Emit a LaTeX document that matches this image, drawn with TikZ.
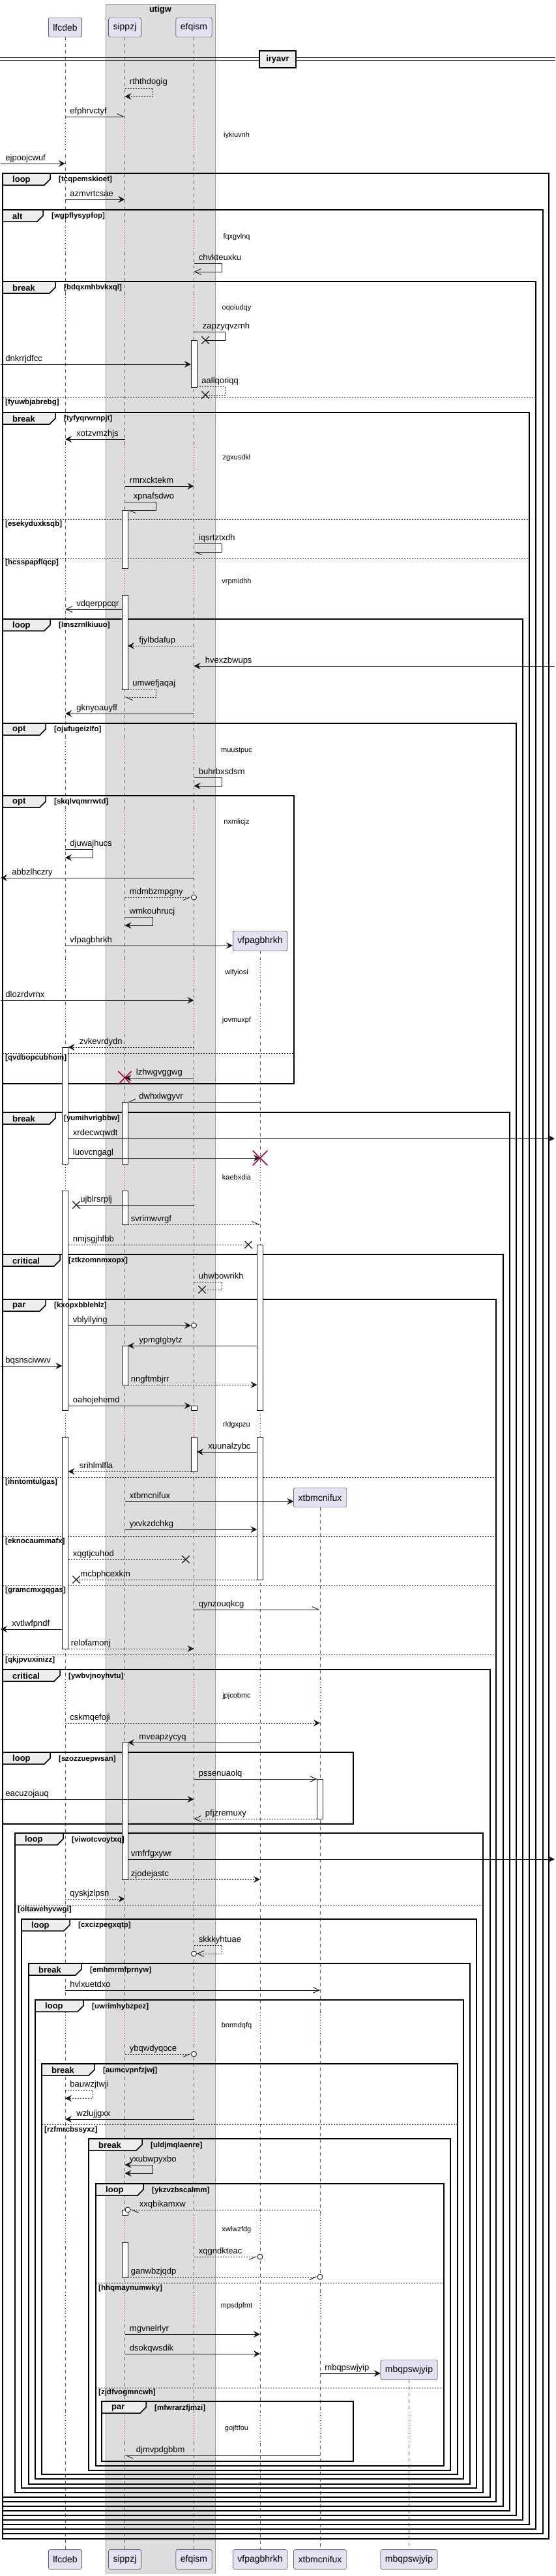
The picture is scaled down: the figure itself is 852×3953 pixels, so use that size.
\documentclass[tikz,border=0pt]{standalone}
\usepackage{fontspec}
\setmainfont{Liberation Sans}
\usetikzlibrary{arrows.meta,shapes.misc,positioning}

\definecolor{partfill}{HTML}{E2E2F0}
\definecolor{partline}{HTML}{181818}
\definecolor{boxfill}{HTML}{DDDDDD}
\definecolor{boxline}{HTML}{9A9A9A}
\definecolor{tabfill}{HTML}{EEEEEE}
\definecolor{delayred}{HTML}{A80036}

% groups: left/top/right/bottom/keyword/condition/tab width
\def\grouplist{
  4/266/842/3896/loop/tcqpemskioet/73,
  4/322/833/3888/alt/wgpflysypfop/62,
  4/432/822/3881/break/bdqxmhbvkxql/81,
  4/633/812/3874/break/tyfyqrwrnpjt/81,
  4/950/802/3867/loop/lmszrnlkiuuo/73,
  4/1110/792/3860/opt/ojufugeizlfo/66,
  4/1221/451/1663/opt/skqlvqmrrwtd/66,
  4/1707/782/3853/break/yumihvrigbbw/81,
  4/1925/772/3846/critical/ztkzomnmxopx/88,
  4/1994/761/3839/par/kxopxbblehlz/66,
  4/2562/752/3832/critical/ywbvjnoyhvtu/88,
  4/2689/542/2799/loop/szozzuepwsan/73,
  23/2813/741/3825/loop/viwotcvoytxq/74,
  33/2945/731/3818/loop/cxcizpegxqtp/74,
  44/3013/721/3812/break/emhmrmfprnyw/81,
  54/3069/711/3804/loop/uwrimhybzpez/74,
  64/3167/702/3797/break/aumcvpnfzjwj/81,
  136/3282/691/3791/break/uldjmqlaenre/82,
  147/3351/681/3784/loop/ykzvzbscalmm/73,
  156/3685/542/3777/par/mfwrarzfjmzi/68}
% else parts: left/right/y/condition
\def\elselist{4/822/610/fyuwbjabrebg, 4/812/797/esekyduxksqb,
  4/812/856/hcsspapflqcp, 4/451/1616/qvdbopcubhom, 4/761/2267/ihntomtulgas,
  4/761/2357/eknocaummafx, 4/761/2433/gramcmxgqgas, 4/761/2539/qkjpvuxinizz,
  23/741/2923/oltawehyvwgi, 64/702/3260/rzfmrcbssyxz, 147/681/3503/hhqmaynumwky,
  147/681/3664/zjdfvogmncwh}

\begin{document}
\begin{tikzpicture}[x=1pt,y=-1pt,
  part/.style={draw=partline,fill=partfill,rounded corners=2.5pt,minimum height=30pt,inner xsep=7pt,font=\fontsize{14}{16}\selectfont},
  life/.style={draw=partline!70,line width=0.6pt,dash pattern=on 5pt off 5pt},
  delayline/.style={draw=delayred,line width=0.8pt,dash pattern=on 1pt off 3pt},
  dtxt/.style={font=\fontsize{11}{13}\selectfont,inner sep=0pt},
  frame/.style={draw=black,line width=1.5pt},
  tab/.style={draw=black,line width=1.5pt,fill=tabfill},
  kwtxt/.style={font=\bfseries\fontsize{13}{15}\selectfont,anchor=west,inner sep=0pt},
  condtxt/.style={font=\bfseries\fontsize{11.5}{13}\selectfont,anchor=west,inner sep=0pt},
  elsesep/.style={draw=black,line width=1pt,dash pattern=on 2pt off 2pt},
  actbar/.style={draw=partline,fill=white,line width=0.9pt,minimum width=9pt,inner sep=0pt},
  msg/.style={draw=partline,line width=0.9pt},
  dot/.style={dash pattern=on 2pt off 2pt},
  fa/.style={-{Stealth[length=10pt,width=10pt,inset=3.5pt]}},
  fb/.style={arrows={Stealth[length=10pt,width=10pt,inset=3.5pt]-Stealth[length=10pt,width=10pt,inset=3.5pt]}},
  oa/.style={-{Straight Barb[length=10pt,width=9pt]}},
  hl/.style={-{Straight Barb[left,length=10pt,width=9pt]}},
  hr/.style={-{Straight Barb[right,length=10pt,width=9pt]}},
  lbl/.style={font=\fontsize{13}{15}\selectfont,inner sep=0pt,anchor=base west,yshift=5pt},
  lr/.style={lbl,at start,xshift=7pt},
  ll/.style={lbl,at end,xshift=17pt},
  circ/.style={circle,draw=partline,fill=white,line width=0.9pt,minimum size=8pt,inner sep=0pt},
  xm/.style={cross out,draw=partline,line width=1.3pt,minimum size=10pt,inner sep=0pt},
  kill/.style={cross out,draw=delayred,line width=1.5pt,minimum size=19pt,inner sep=0pt}]

  \useasboundingbox (0,0) rectangle (852,3953);

  % box utigw
  \draw[draw=boxline,fill=boxfill] (162,6) rectangle (330,3948);
  \node[font=\bfseries\fontsize{13}{15}\selectfont] (utigw) at (246,15) {utigw};

  % participants
  \foreach \n/\px in {lfcdeb/100,sippzj/191.5,efqism/297.5}{
    \node[part] (\n) at (\px,42) {\n};
  }
  \node[part] (vfpagbhrkh) at (399,1444) {vfpagbhrkh};
  \node[part] (xtbmcnifux) at (491,2298) {xtbmcnifux};
  \node[part] (mbqpswjyip) at (627.5,3636.5) {mbqpswjyip};
  \foreach \n/\px in {lfcdeb/100,sippzj/191.5,efqism/297.5,vfpagbhrkh/399,xtbmcnifux/491,mbqpswjyip/627.5}{
    \node[part] (b-\n) at (\px,3927.5) {\n};
  }

  \coordinate (L) at (lfcdeb.south);
  \coordinate (Ll) at ([xshift=-4.5pt]lfcdeb.south);
  \coordinate (Lr) at ([xshift=4.5pt]lfcdeb.south);
  \coordinate (S) at (sippzj.south);
  \coordinate (Sl) at ([xshift=-4.5pt]sippzj.south);
  \coordinate (Sr) at ([xshift=4.5pt]sippzj.south);
  \coordinate (E) at (efqism.south);
  \coordinate (El) at ([xshift=-4.5pt]efqism.south);
  \coordinate (Er) at ([xshift=4.5pt]efqism.south);
  \coordinate (V) at (vfpagbhrkh.south);
  \coordinate (Vl) at ([xshift=-4.5pt]vfpagbhrkh.south);
  \coordinate (X) at (xtbmcnifux.south);
  \coordinate (Xl) at ([xshift=-4.5pt]xtbmcnifux.south);
  \coordinate (M) at (mbqpswjyip.south);
  \coordinate (lb) at (1,0);
  \coordinate (rb) at (851,0);

  % lifelines
  \foreach \n in {lfcdeb,sippzj,efqism,vfpagbhrkh,xtbmcnifux,mbqpswjyip}
    \draw[life] (\n.south) -- (b-\n.north);

  % delays
  \foreach \ya/\yb/\ty/\txt/\plist in {
    185/232/208/iykiuvnh/{L/white,S/boxfill,E/boxfill},
    345/387/364/fqxgvlnq/{L/white,S/boxfill,E/boxfill},
    452/493/473/oqoiudqy/{L/white,S/boxfill,E/boxfill},
    682/725/703/zgxusdkl/{L/white,S/boxfill,E/boxfill},
    875/912/893/vrpmidhh/{L/white,S/boxfill,E/boxfill},
    1133/1170/1152/muustpuc/{L/white,S/boxfill,E/boxfill},
    1243/1280/1262/nxmlicjz/{L/white,S/boxfill,E/boxfill},
    1472/1513/1493/wifyiosi/{L/white,S/boxfill,E/boxfill,V/white},
    1547/1587/1566/jovmuxpf/{L/white,S/boxfill,E/boxfill,V/white},
    1787/1827/1807/kaebxdia/{L/white,S/boxfill,E/boxfill,V/white},
    2164/2205/2187/rldgxpzu/{L/white,S/boxfill,E/boxfill,V/white},
    2577/2625/2603/jpjcobmc/{L/white,S/boxfill,E/boxfill,V/white,X/white},
    3088/3133/3109/bnrmdqfq/{L/white,S/boxfill,E/boxfill,V/white,X/white},
    3399/3441/3422/xwlwzfdg/{L/white,S/boxfill,E/boxfill,V/white,X/white},
    3518/3560/3539/mpsdpfmt/{L/white,S/boxfill,E/boxfill,V/white,X/white},
    3702/3747/3727/gojftfou/{L/white,S/boxfill,E/boxfill,V/white,X/white,M/white}}{
    \foreach \who/\bg in \plist {
      \draw[draw=\bg,line width=2pt] (\who|-0,\ya) -- (\who|-0,\yb);
      \draw[delayline] (\who|-0,\ya) -- (\who|-0,\yb);
    }
    \node[dtxt] (dl\ya) at (363,\ty) {\txt};
  }

  % divider
  \draw[line width=1pt] (0,89) -- (852,89) (0,93) -- (852,93);
  \node[draw=black,line width=1.5pt,fill=tabfill,minimum width=56pt,minimum height=26pt,inner sep=0pt,font=\bfseries\fontsize{13}{15}\selectfont] (iryavr) at (426,91) {iryavr};

  % groups
  \foreach \xa/\ya/\xb/\yb/\kw/\cond/\tw in \grouplist {
    \draw[frame] (\xa,\ya) rectangle (\xb,\yb);
    \draw[tab] (\xa,\ya) -- (\xa+\tw,\ya) -- (\xa+\tw,\ya+9) -- (\xa+\tw-9,\ya+18) -- (\xa,\ya+18) -- cycle;
    \node[kwtxt] (kw\ya) at (\xa+15,\ya+10) {\kw};
  }
  \foreach \xa/\xb/\y/\cond in \elselist
    \draw[elsesep] (\xa,\y) -- (\xb,\y);

  % activations
  \foreach \who/\ya/\yb in {E/522/594, S/783/872, S/913/1058, L/1607/1786, L/1827/2164,
    L/2205/2530, S/1691/1786, S/1827/1879, V/1910/2164, V/2205/2424, S/2065/2125,
    E/2157/2164, E/2205/2258, S/2674/2884, X/2730/2791, S/3391/3399, S/3441/3494}
    \node[actbar,minimum height={(\yb-\ya)*1pt},anchor=north] (act\who\ya) at (\who|-0,\ya) {};

  % guard texts
  \foreach \xa/\ya/\xb/\yb/\kw/\cond/\tw in \grouplist
    \node[condtxt] (cd\ya) at (\xa+\tw+13,\ya+10) {[\cond]};
  \foreach \xa/\xb/\y/\cond in \elselist
    \node[condtxt] (el\y) at (\xa+4,\y+8) {[\cond]};

  % messages
  \draw[msg,dot,fa] (S|-0,135) -- node[lr]{rththdogig} ++(43,0) -- ++(0,13) -- (S|-0,148);
  \draw[msg,hl] (L|-0,179) -- node[lr]{efphrvctyf} (S|-0,179);
  \draw[msg,fa] (lb|-0,251) -- node[lr]{ejpoojcwuf} (L|-0,251);
  \draw[msg,fa] (L|-0,306) -- node[lr]{azmvrtcsae} (S|-0,306);
  \draw[msg,oa] (E|-0,404) -- node[lr]{chvkteuxku} ++(43,0) -- ++(0,13) -- (E|-0,417);
  \node[xm] (x522) at (315,522) {};
  \draw[msg] (E|-0,509) -- node[lr,xshift=6pt]{zapzyqvzmh} ++(48,0) -- ++(0,13) -- (x522.center);
  \draw[msg,fa] (lb|-0,559) -- node[lr]{dnkrrjdfcc} (El|-0,559);
  \node[xm] (x606) at (315,606) {};
  \draw[msg,dot] (Er|-0,593) -- node[lr]{aallqoriqq} ++(43.5,0) -- ++(0,13) -- (x606.center);
  \draw[msg,fa] (S|-0,674) -- node[ll]{xotzvmzhjs} (L|-0,674);
  \draw[msg,fa] (S|-0,746) -- node[lr]{rmrxcktekm} (E|-0,746);
  \draw[msg,hl] (S|-0,770) -- node[lr,xshift=6pt]{xpnafsdwo} ++(48,0) -- ++(0,13) -- (Sr|-0,783);
  \draw[msg,hl] (E|-0,834) -- node[lr]{iqsrtztxdh} ++(43,0) -- ++(0,13) -- (E|-0,847);
  \draw[msg,oa] (Sl|-0,935) -- node[ll]{vdqerppcqr} (L|-0,935);
  \draw[msg,dot,fa] (E|-0,991) -- node[ll]{fjylbdafup} (Sr|-0,991);
  \draw[msg,fa] (rb|-0,1022) -- node[ll]{hvexzbwups} (E|-0,1022);
  \draw[msg,dot,hl] (Sr|-0,1057) -- node[lr]{umwefjaqaj} ++(43.5,0) -- ++(0,13) -- (S|-0,1070);
  \draw[msg,fa] (E|-0,1095) -- node[ll]{gknyoauyff} (L|-0,1095);
  \draw[msg,fa] (E|-0,1193) -- node[lr]{buhrbxsdsm} ++(43,0) -- ++(0,13) -- (E|-0,1206);
  \draw[msg,fa] (L|-0,1303) -- node[lr]{djuwajhucs} ++(42,0) -- ++(0,13) -- (L|-0,1316);
  \draw[msg,fa] (E|-0,1347) -- node[ll]{abbzlhczry} (lb|-0,1347);
  \node[circ] (c1377) at (E|-0,1377) {};
  \draw[msg,dot,hr] (S|-0,1377) -- node[lr]{mdmbzmpgny} (c1377.west);
  \draw[msg,fa] (S|-0,1407) -- node[lr]{wmkouhrucj} ++(43,0) -- ++(0,13) -- (S|-0,1420);
  \draw[msg,fa] (L|-0,1451) -- node[lr]{vfpagbhrkh} (vfpagbhrkh.west|-0,1451);
  \draw[msg,fa] (lb|-0,1535) -- node[lr]{dlozrdvrnx} (E|-0,1535);
  \draw[msg,dot,fa] (E|-0,1607) -- node[ll]{zvkevrdydn} (Lr|-0,1607);
  \draw[msg,fa] (E|-0,1654) -- node[ll]{lzhwgvggwg} (S|-0,1654);
  \node[kill] (k1654) at (S|-0,1654) {};
  \draw[msg,hr] (V|-0,1691) -- node[ll]{dwhxlwgyvr} (Sr|-0,1691);
  \draw[msg,fa] (Lr|-0,1747) -- node[lr]{xrdecwqwdt} (rb|-0,1747);
  \draw[msg,fa] (Lr|-0,1777) -- node[lr]{luovcngagl} (V|-0,1777);
  \node[kill,minimum size=21pt] (k1777) at (V|-0,1777) {};
  \node[xm] (x1849) at (117,1849) {};
  \draw[msg] (E|-0,1849) -- node[ll,xshift=-11pt]{ujblrsrplj} (x1849.center);
  \draw[msg,dot,hl] (Sr|-0,1879) -- node[lr,xshift=-2.5pt]{svrimwvrgf} (V|-0,1879);
  \node[xm] (x1910) at (381,1910) {};
  \draw[msg,dot] (Lr|-0,1910) -- node[lr]{nmjsgjhfbb} (x1910.center);
  \node[xm] (x1979) at (310,1979) {};
  \draw[msg,dot] (E|-0,1967) -- node[lr]{uhwbowrikh} ++(43,0) -- ++(0,12) -- (x1979.center);
  \node[circ] (c2034) at (E|-0,2034) {};
  \draw[msg,fa] (Lr|-0,2034) -- node[lr]{vblyllying} (c2034.west);
  \draw[msg,fa] (Vl|-0,2065) -- node[ll]{ypmgtgbytz} (Sr|-0,2065);
  \draw[msg,fa] (lb|-0,2096) -- node[lr]{bqsnsciwwv} (Ll|-0,2096);
  \draw[msg,dot,fa] (Sr|-0,2125) -- node[lr,xshift=-2.5pt]{nngftmbjrr} (Vl|-0,2125);
  \draw[msg,fa] (Lr|-0,2157) -- node[lr]{oahojehemd} (El|-0,2157);
  \draw[msg,fa] (Vl|-0,2228) -- node[ll]{xuunalzybc} (Er|-0,2228);
  \draw[msg,dot,fa] (El|-0,2258) -- node[ll]{srihlmlfla} (Lr|-0,2258);
  \draw[msg,fa] (S|-0,2304) -- node[lr]{xtbmcnifux} (xtbmcnifux.west|-0,2304);
  \draw[msg,fa] (S|-0,2347) -- node[lr]{yxvkzdchkg} (Vl|-0,2347);
  \node[xm] (x2393) at (285,2393) {};
  \draw[msg,dot] (Lr|-0,2393) -- node[lr]{xqgtjcuhod} (x2393.center);
  \node[xm] (x2424) at (117,2424) {};
  \draw[msg,dot] (Vl|-0,2424) -- node[ll,xshift=-11pt]{mcbphcexkm} (x2424.center);
  \draw[msg,hl] (E|-0,2470) -- node[lr]{qynzouqkcg} (X|-0,2470);
  \draw[msg,fa] (Ll|-0,2500) -- node[ll]{xvtlwfpndf} (lb|-0,2500);
  \draw[msg,dot,fa] (Lr|-0,2530) -- node[lr,xshift=-3pt]{relofamonj} (E|-0,2530);
  \draw[msg,dot,fa] (L|-0,2644) -- node[lr]{cskmqefoji} (X|-0,2644);
  \draw[msg,fa] (V|-0,2674) -- node[ll]{mveapzycyq} (Sr|-0,2674);
  \draw[msg,oa] (E|-0,2730) -- node[lr]{pssenuaolq} (Xl|-0,2730);
  \draw[msg,fa] (lb|-0,2761) -- node[lr]{eacuzojauq} (E|-0,2761);
  \draw[msg,dot,oa] (Xl|-0,2791) -- node[ll]{pfjzremuxy} (E|-0,2791);
  \draw[msg,fa] (Sr|-0,2853) -- node[lr,xshift=-2.5pt]{vmfrfgxywr} (rb|-0,2853);
  \draw[msg,dot,fa] (Sr|-0,2884) -- node[lr,xshift=-2.5pt]{zjodejastc} (V|-0,2884);
  \draw[msg,dot,fa] (L|-0,2914) -- node[lr]{qyskjzlpsn} (S|-0,2914);
  \node[circ] (c2998) at (E|-0,2998) {};
  \draw[msg,dot,oa] (E|-0,2985) -- node[lr]{skkkyhtuae} ++(43,0) -- ++(0,13) -- (c2998.east);
  \draw[msg,oa] (L|-0,3054) -- node[lr]{hvlxuetdxo} (X|-0,3054);
  \node[circ] (c3152) at (E|-0,3152) {};
  \draw[msg,dot,hr] (S|-0,3152) -- node[lr]{ybqwdyqoce} (c3152.west);
  \draw[msg,dot,fa] (L|-0,3207) -- node[lr]{bauwzjtwji} ++(42,0) -- ++(0,13) -- (L|-0,3220);
  \draw[msg,fa] (E|-0,3252) -- node[ll]{wzlujjgxx} (L|-0,3252);
  \draw[msg,fb] (S|-0,3322) -- node[lr]{yxubwpyxbo} ++(43,0) -- ++(0,13) -- (S|-0,3335);
  \node[circ] (c3391) at (Sr|-0,3391) {};
  \draw[msg,dot,hl] (X|-0,3391) -- node[ll,xshift=-4pt]{xxqbikamxw} (c3391.east);
  \node[circ] (c3463) at (V|-0,3463) {};
  \draw[msg,dot,hr] (E|-0,3463) -- node[lr]{xqgndkteac} (c3463.west);
  \node[circ] (c3494) at (X|-0,3494) {};
  \draw[msg,dot,hr] (Sr|-0,3494) -- node[lr,xshift=-2.5pt]{ganwbzjqdp} (c3494.west);
  \draw[msg,fa] (S|-0,3582) -- node[lr]{mgvnelrlyr} (V|-0,3582);
  \draw[msg,fa] (S|-0,3612) -- node[lr]{dsokqwsdik} (V|-0,3612);
  \draw[msg,fa] (X|-0,3642) -- node[lr]{mbqpswjyip} (mbqpswjyip.west|-0,3642);
  \draw[msg,hl] (X|-0,3768) -- node[ll]{djmvpdgbbm} (S|-0,3768);
\end{tikzpicture}
\end{document}
